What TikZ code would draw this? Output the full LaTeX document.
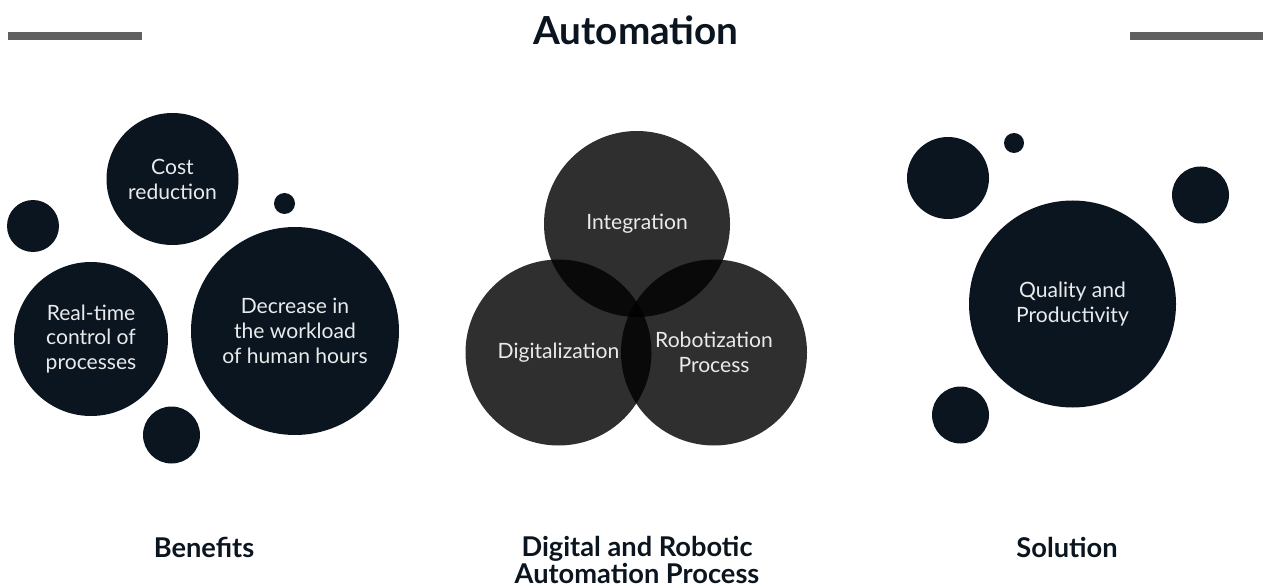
\documentclass[tikz,border=0pt]{standalone}
\usepackage{fontspec}
\setmainfont{Lato}
\usetikzlibrary{positioning}
\definecolor{bubbleink}{RGB}{11,21,31}
\definecolor{barcolor}{RGB}{96,96,96}
\definecolor{bubbletext}{RGB}{232,234,236}

\begin{document}
\begin{tikzpicture}[x=0.02cm, y=-0.02cm]
    \def\px{0.02cm}
    \tikzset{
        bubble/.style={circle, fill=bubbleink, inner sep=0pt, text=bubbletext,
            align=center, font=\fontsize{12}{14.2}\selectfont},
        venn/.style={circle, fill=black, fill opacity=0.815, text opacity=1,
            inner sep=0pt, minimum size=186*\px, text=bubbletext, align=center,
            font=\fontsize{12}{14.2}\selectfont},
        caption/.style={text=bubbleink, align=center,
            font=\bfseries\fontsize{15.5}{15.5}\selectfont},
        headbar/.style={color=barcolor, line width=8*\px}
    }
    \useasboundingbox (0,0) rectangle (1263,587);
    % Heading and side bars
    \node[text=bubbleink, font=\bfseries\fontsize{22}{22}\selectfont] (title) at (636,30) {Automation};
    \draw[headbar] (8,36) -- (142,36);
    \draw[headbar] (1130,36) -- (1263,36);

    % Benefits cluster
    \node[bubble, minimum size=132*\px] (cost) at (172.5,179) {Cost\\reduction};
    \node[bubble, minimum size=52*\px] (dotA) at (33,226) {};
    \node[bubble, minimum size=21*\px] (dotB) at (284.5,203.5) {};
    \node[bubble, minimum size=154*\px] (realtime) at (91,339) {Real-time\\control of\\processes};
    \node[bubble, minimum size=208*\px] (workload) at (295,331) {Decrease in\\the workload\\of human hours};
    \node[bubble, minimum size=57*\px] (dotC) at (171.5,435) {};

    % Venn of the three parts
    \node[venn] (integration) at (637,224) {Integration};
    \node[venn] (digital) at (558.5,352.5) {Digitalization};
    \node[venn] (robot) at (714,352.5) {Robotization\\Process};

    % Solution cluster
    \node[bubble, minimum size=207*\px] (quality) at (1072.5,304) {Quality and\\Productivity};
    \node[bubble, minimum size=82*\px] (dotD) at (948,178) {};
    \node[bubble, minimum size=20*\px] (dotE) at (1014,143) {};
    \node[bubble, minimum size=57*\px] (dotF) at (1200.5,195) {};
    \node[bubble, minimum size=57*\px] (dotG) at (960.5,415) {};

    % Captions
    \node[caption] (benefits) at (204,547) {Benefits};
    \node[caption, font=\bfseries\fontsize{15.5}{15.3}\selectfont] (process) at (637,560) {Digital and Robotic\\Automation Process};
    \node[caption] (solution) at (1067,547) {Solution};
\end{tikzpicture}
\end{document}
